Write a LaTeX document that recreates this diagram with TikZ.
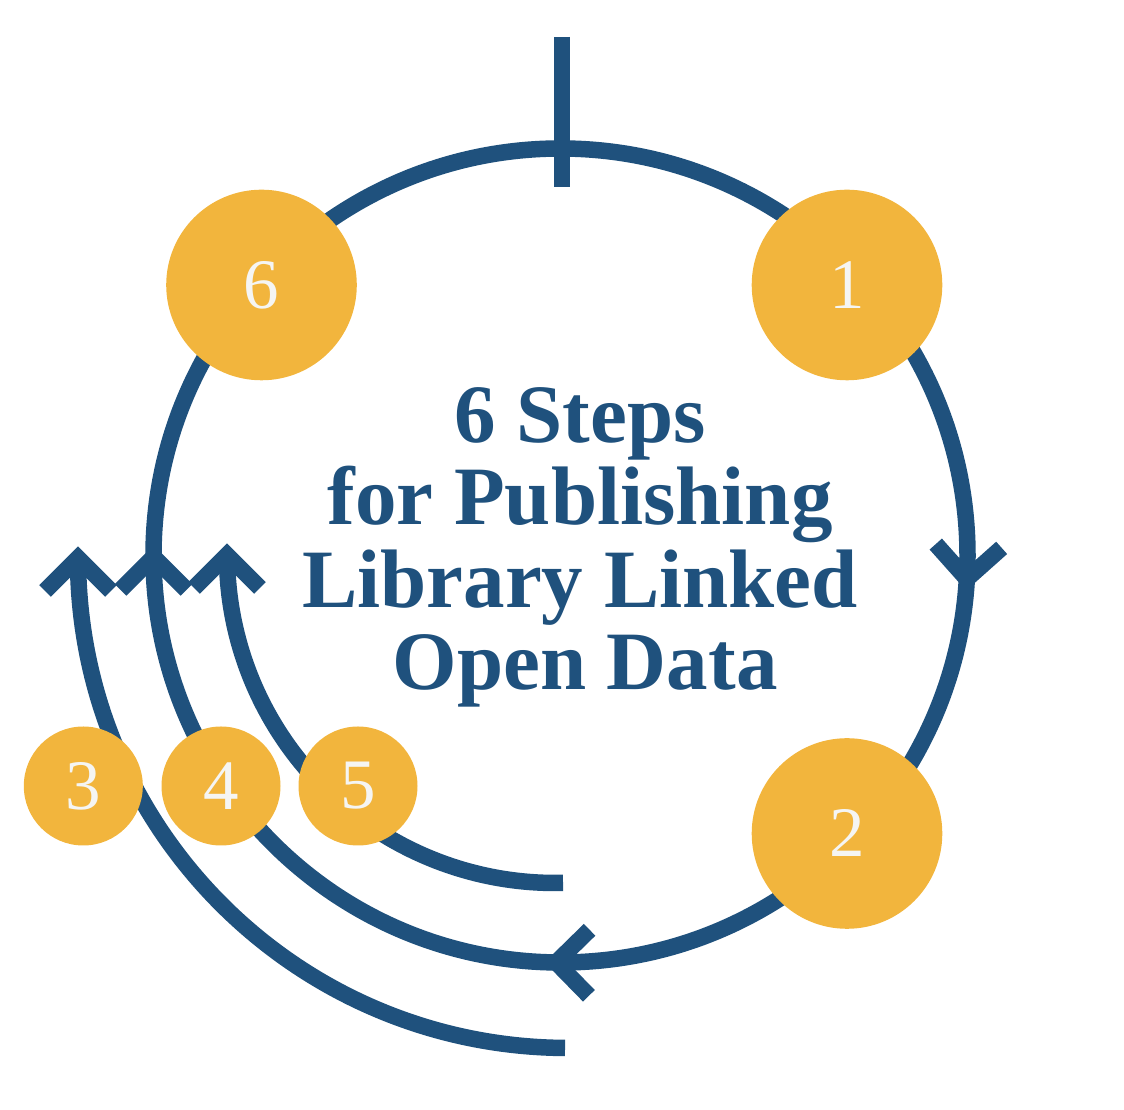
\documentclass[tikz,border=0pt]{standalone}
\usepackage{fontspec}
\setmainfont{Liberation Serif}
\usetikzlibrary{calc}
\definecolor{lodblue}{RGB}{31,81,125}
\definecolor{lodgold}{RGB}{242,181,61}
\definecolor{lodwhite}{RGB}{245,245,243}
\begin{document}
\begin{tikzpicture}[x=1pt,y=1pt,
  bl/.style={draw=lodblue, line width=16.5pt, line cap=butt},
  chevron/.pic={\draw[bl, line join=miter] (-33,-33) -- (0,0) -- (33,-33);},
  bigdot/.style={circle, fill=lodgold, minimum size=190.6pt, inner sep=0pt, text=lodwhite, font=\fontsize{71}{71}\selectfont},
  smalldot/.style={circle, fill=lodgold, minimum size=119pt, inner sep=0pt, text=lodwhite, font=\fontsize{71}{71}\selectfont},
  titletext/.style={text=lodblue, font=\bfseries\fontsize{83}{83}\selectfont, anchor=base, inner sep=0pt}]
\useasboundingbox (0,0) rectangle (1124,1110);
\coordinate (Cm) at (560.5,554.5);
\coordinate (Co) at (568,552);
\coordinate (Ci) at (555,555);
% tick at the top
\coordinate (tickT) at (562,1073);
\coordinate (tickB) at (562,923);
\draw[bl] (tickT) -- (tickB);
% main circle
\draw[bl] (Cm) circle[radius=407];
% outer and inner arcs
\draw[bl] ($(Co)+(-90.35:490)$) coordinate (oEnd) arc[start angle=-90.35, end angle=-180, radius=490] coordinate (oTip);
\draw[bl] ($(Ci)+(-88.6:328)$) coordinate (iEnd) arc[start angle=-88.6, end angle=-180, radius=328] coordinate (iTip);
% arrowheads
\coordinate (mR) at ($(Cm)+(-3.3:407)$);
\coordinate (mB) at ($(Cm)+(-90.6:407)$);
\coordinate (mL) at ($(Cm)+(180.2:407)$);
\pic[rotate=176.7] at (mR) {chevron};
\pic[rotate=89.4] at (mB) {chevron};
\pic at (mL) {chevron};
\pic at (oTip) {chevron};
\pic at (iTip) {chevron};
% step circles
\node[bigdot] (n6) at (261.5,825) {6};
\node[bigdot] (n1) at (847,825) {1};
\node[bigdot] (n2) at (847,276.5) {2};
\node[smalldot] (n3) at (83.3,324) {3};
\node[smalldot] (n4) at (221,324) {4};
\node[smalldot] (n5) at (358,324) {5};
% title
\node[titletext] (t1) at (580,667) {6 Steps};
\node[titletext] (t2) at (580,585) {for Publishing};
\node[titletext] (t3) at (580,502) {Library Linked};
\node[titletext] (t4) at (585,420) {Open Data};
\end{tikzpicture}
\end{document}
